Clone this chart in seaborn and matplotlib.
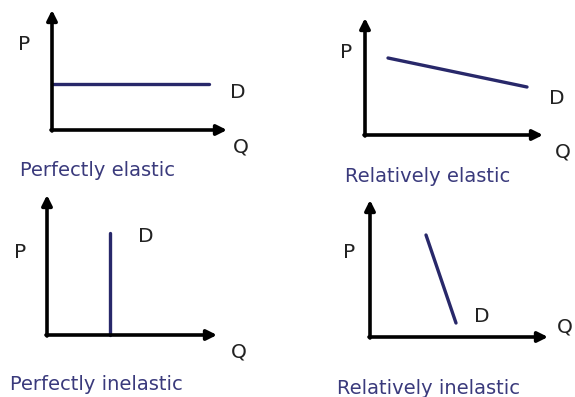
import matplotlib
matplotlib.use('Agg')
import matplotlib.pyplot as plt
import seaborn as sns
import pandas as pd

sns.set_style('white')
plt.rcParams['font.family'] = ['DejaVu Sans']

# 四种需求弹性
titles = ['Perfectly elastic', 'Relatively elastic', 'Perfectly inelastic', 'Relatively inelastic']
# 需求曲线端点 (Q, P)，单位：相对原点的像素
demand_q = [[0, 157], [23, 162], [63, 63], [56, 86]]
demand_p = [[46, 46], [77, 48], [0, 102], [102, 14]]
# 坐标轴长度 (Q轴, P轴)
q_len = [175, 178, 170, 178]
p_len = [120, 117, 140, 137]
# 原点在图中的像素位置
origins = [(52, 130), (365, 135), (47, 335), (370, 337)]
# 文本位置（相对原点）
p_pos = [(-34, 85), (-25, 83), (-33, 83), (-27, 84)]
q_pos = [(181, -17), (190, -17), (184, -17), (187, 10)]
d_pos = [(178, 38), (184, 37), (91, 98), (104, 21)]
t_pos = [(-32, -40), (-20, -42), (-37, -50), (-33, -51)]

line_color = '#28286a'
text_color = '#3a3a7c'

W, H = 575, 397
fig = plt.figure(figsize=(W / 100, H / 100), dpi=100)
ax = fig.add_axes([0, 0, 1, 1])
ax.set_xlim(0, W)
ax.set_ylim(H, 0)
ax.axis('off')

for i in range(4):
    ox, oy = origins[i]
    # 坐标轴箭头
    ax.annotate('', xy=(ox + q_len[i], oy), xytext=(ox - 1, oy),
                arrowprops=dict(arrowstyle='-|>,head_length=0.6,head_width=0.3', lw=2.6, color='black',
                                shrinkA=0, shrinkB=0))
    ax.annotate('', xy=(ox, oy - p_len[i]), xytext=(ox, oy + 1),
                arrowprops=dict(arrowstyle='-|>,head_length=0.6,head_width=0.3', lw=2.6, color='black',
                                shrinkA=0, shrinkB=0))
    # 需求曲线
    df = pd.DataFrame({'x': [ox + q for q in demand_q[i]],
                       'y': [oy - p for p in demand_p[i]]})
    sns.lineplot(data=df, x='x', y='y', ax=ax, color=line_color, lw=2.4, sort=False, estimator=None)
    ax.text(ox + p_pos[i][0], oy - p_pos[i][1], 'P', fontsize=14.5, color='#222222', va='center', ha='left')
    ax.text(ox + q_pos[i][0], oy - q_pos[i][1], 'Q', fontsize=14.5, color='#222222', va='center', ha='left')
    ax.text(ox + d_pos[i][0], oy - d_pos[i][1], 'D', fontsize=14.5, color='#222222', va='center', ha='left')
    ax.text(ox + t_pos[i][0], oy - t_pos[i][1], titles[i], fontsize=14, color=text_color, va='center', ha='left')

ax.set_xlim(0, W)
ax.set_ylim(H, 0)
ax.set_xlabel('')
ax.set_ylabel('')
fig.savefig('out.png', dpi=100)
